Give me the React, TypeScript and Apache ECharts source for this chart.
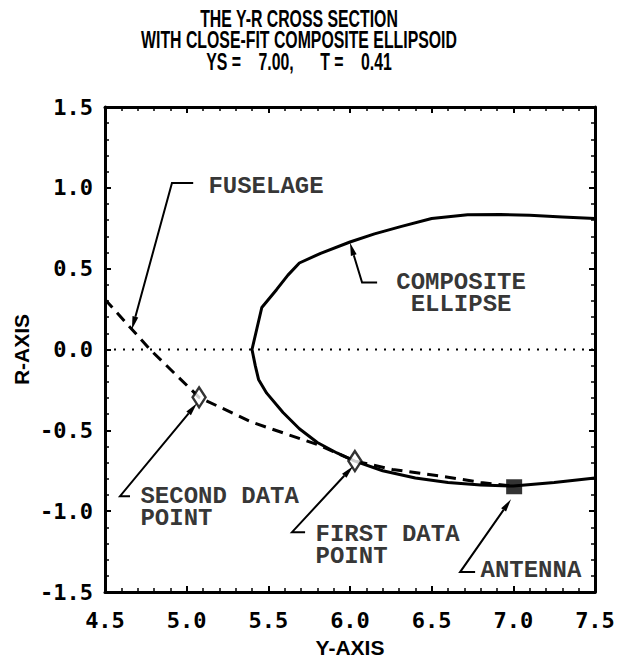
import React, { useEffect, useRef } from "react";
import * as echarts from "echarts";

// Cross-section of the fuselage (dashed) and the close-fit composite ellipse (solid)
const titleLines = [
  "THE Y-R CROSS SECTION",
  "WITH CLOSE-FIT COMPOSITE ELLIPSOID",
  "YS =    7.00,      T =    0.41",
];

const compositeEllipse: [number, number][] = [
  [7.5, 0.81], [7.3, 0.82], [7.1, 0.83], [6.92, 0.835], [6.72, 0.833],
  [6.5, 0.81], [6.31, 0.76], [6.15, 0.715], [6.0, 0.665], [5.82, 0.595],
  [5.69, 0.535], [5.62, 0.46], [5.55, 0.37], [5.46, 0.26], [5.43, 0.13],
  [5.4, 0.0], [5.42, -0.1], [5.44, -0.185], [5.49, -0.27], [5.59, -0.39],
  [5.69, -0.49], [5.8, -0.575], [5.92, -0.64], [6.03, -0.69], [6.2, -0.75],
  [6.4, -0.795], [6.6, -0.822], [6.8, -0.838], [7.0, -0.845], [7.25, -0.822],
  [7.5, -0.795],
];

const fuselage: [number, number][] = [
  [4.5, 0.31], [4.776, 0.0], [5.076, -0.296], [5.4, -0.45], [5.8, -0.588],
  [6.03, -0.69], [6.26, -0.742], [6.6, -0.79], [6.8, -0.822], [7.0, -0.845],
];

const zeroLine: [number, number][] = [[4.5, 0], [7.5, 0]];

const dataPoints: [number, number][] = [[5.076, -0.296], [6.03, -0.69]];
const antenna: [number, number][] = [[7.005, -0.849]];

// Callout leaders: polyline vertices in axis units, the last one is the arrow tip
const leaders: [number, number][][] = [
  [[5.04, 1.03], [4.91, 1.03], [4.665, 0.125]],
  [[6.166, 0.414], [6.074, 0.414], [6.0, 0.66]],
  [[4.653, -0.907], [4.592, -0.907], [5.063, -0.333]],
  [[5.725, -1.13], [5.645, -1.13], [6.019, -0.722]],
  [[6.766, -1.377], [6.674, -1.377], [6.986, -0.926]],
];

const calloutTexts = ["FUSELAGE", "COMPOSITE\nELLIPSE", "SECOND DATA\nPOINT", "FIRST DATA\nPOINT", "ANTENNA"];
const calloutAnchors: [number, number][] = [
  [5.13, 1.01], [6.68, 0.346], [4.714, -0.975], [5.786, -1.21], [6.796, -1.37],
];
const calloutCentered = [false, true, false, false, false];

const xTicks = { min: 4.5, max: 7.5, step: 0.5 };
const yTicks = { min: -1.5, max: 1.5, step: 0.5 };

const sansFont = "'Liberation Sans', Arial, sans-serif";
const tickFont = "'DejaVu Sans Mono', 'Liberation Mono', monospace";
const noteFont = "'Liberation Mono', 'DejaVu Sans Mono', monospace";

function frameAxis(extra: any) {
  return {
    type: "value",
    axisLine: { show: true, onZero: false, lineStyle: { color: "#000", width: 3 } },
    axisTick: { show: true, inside: true, length: 6, lineStyle: { color: "#000", width: 2 } },
    minorTick: { show: true, splitNumber: 5, length: 4, lineStyle: { color: "#000", width: 1.5 } },
    splitLine: { show: false },
    minorSplitLine: { show: false },
    ...extra,
  };
}

export default function App() {
  const ref = useRef<HTMLDivElement>(null);

  useEffect(() => {
    if (!ref.current) return;
    const chart = echarts.init(ref.current, null, { renderer: "svg" });

    const tickLabel = {
      show: true,
      color: "#000",
      fontFamily: tickFont,
      fontWeight: "bold",
      fontSize: 22,
      formatter: (v: number) => v.toFixed(1),
    };

    const axisNameStyle = { fontFamily: sansFont, fontSize: 21, fontWeight: "bold", color: "#000" };

    chart.setOption({
      animation: false,
      backgroundColor: "#fff",
      graphic: [
        {
          type: "text",
          x: 299,
          y: 8,
          scaleX: 0.66,
          originX: 0,
          style: {
            text: titleLines.join("\n"),
            align: "center",
            verticalAlign: "top",
            fontFamily: sansFont,
            fontWeight: "bold",
            fontSize: 24,
            lineHeight: 21.5,
            fill: "#000",
          },
        },
      ],
      grid: { left: 105, right: 26, top: 107, bottom: 70 },
      xAxis: [
        frameAxis({
          min: xTicks.min, max: xTicks.max, interval: xTicks.step, position: "bottom",
          axisLabel: { ...tickLabel, margin: 17 },
          name: "Y-AXIS", nameLocation: "middle", nameGap: 45, nameMoveOverlap: false,
          nameTextStyle: axisNameStyle,
        }),
        frameAxis({
          min: xTicks.min, max: xTicks.max, interval: xTicks.step, position: "top",
          axisLabel: { show: false },
        }),
      ],
      yAxis: [
        frameAxis({
          min: yTicks.min, max: yTicks.max, interval: yTicks.step, position: "left",
          axisLabel: { ...tickLabel, margin: 12 },
          name: "R-AXIS", nameLocation: "middle", nameGap: 73, nameRotate: 90, nameMoveOverlap: false,
          nameTextStyle: axisNameStyle,
        }),
        frameAxis({
          min: yTicks.min, max: yTicks.max, interval: yTicks.step, position: "right",
          axisLabel: { show: false },
        }),
      ],
      series: [
        {
          type: "line",
          data: zeroLine,
          symbol: "none",
          lineStyle: { color: "#000", width: 2, type: [2, 7] },
          z: 1,
        },
        {
          type: "line",
          name: "Fuselage",
          data: fuselage,
          symbol: "none",
          lineStyle: { color: "#000", width: 3, type: [11, 7] },
          z: 2,
        },
        {
          type: "line",
          name: "Composite ellipse",
          data: compositeEllipse,
          symbol: "none",
          lineStyle: { color: "#000", width: 3 },
          z: 3,
        },
        {
          type: "scatter",
          data: dataPoints,
          symbol: "diamond",
          symbolSize: [13, 20],
          itemStyle: { color: "#fff", borderColor: "#000", borderWidth: 2.5 },
          z: 5,
        },
        {
          type: "scatter",
          data: antenna,
          symbol: "rect",
          symbolSize: [16, 15],
          itemStyle: { color: "#000" },
          z: 5,
        },
        {
          type: "custom",
          data: leaders.map((l) => l[l.length - 1]),
          z: 6,
          renderItem: (params: any, api: any) => {
            const pts = leaders[params.dataIndex].map((p) => api.coord(p));
            const n = pts.length;
            const tip = pts[n - 1];
            const prev = pts[n - 2];
            const dx = tip[0] - prev[0];
            const dy = tip[1] - prev[1];
            const len = Math.hypot(dx, dy);
            const ux = dx / len;
            const uy = dy / len;
            const L = 13;
            const W = 3;
            const base = [tip[0] - ux * L, tip[1] - uy * L];
            return {
              type: "group",
              children: [
                {
                  type: "polyline",
                  shape: { points: pts.slice(0, n - 1).concat([base]) },
                  style: { stroke: "#000", lineWidth: 2, fill: null },
                },
                {
                  type: "polygon",
                  shape: {
                    points: [tip, [base[0] - uy * W, base[1] + ux * W], [base[0] + uy * W, base[1] - ux * W]],
                  },
                  style: { fill: "#000" },
                },
              ],
            };
          },
        },
        {
          type: "scatter",
          symbolSize: 1,
          itemStyle: { color: "transparent" },
          z: 7,
          data: calloutAnchors.map((p, i) => ({
            value: p,
            label: {
              show: true,
              formatter: calloutTexts[i],
              position: calloutCentered[i] ? "inside" : "right",
              distance: 0,
              align: calloutCentered[i] ? "center" : "left",
              fontFamily: noteFont,
              fontWeight: "bold",
              fontSize: 24,
              lineHeight: 22,
              color: "#000",
            },
          })),
        },
      ],
    });

    return () => chart.dispose();
  }, []);

  return (
    <div
      ref={ref}
      style={{ position: "fixed", left: 0, top: 0, width: 621, height: 663, background: "#fff" }}
    />
  );
}
